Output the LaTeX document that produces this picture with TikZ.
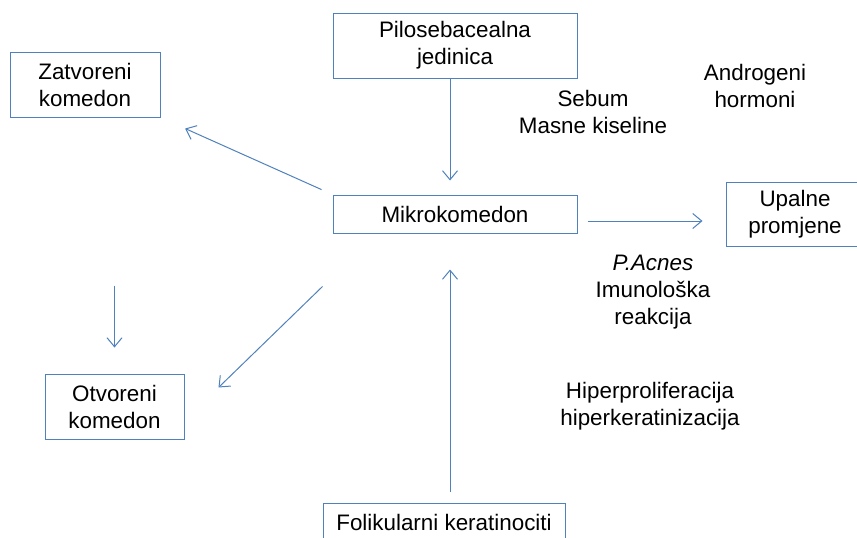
\documentclass[tikz,border=0pt]{standalone}
\usepackage{fontspec}
\setmainfont{Liberation Sans}
\usetikzlibrary{arrows.meta,positioning}
\definecolor{boxblue}{RGB}{79,129,189}
\tikzstyle{state}=[draw=boxblue, fill=white, align=center, inner sep=0pt, line width=1pt]
\tikzstyle{lbl}=[align=center, inner sep=0pt]
\tikzstyle{link}=[->, draw=boxblue, line width=1pt]

\begin{document}
\begin{tikzpicture}[x=1pt,y=-1pt,>={Straight Barb[length=9pt,width=15pt]},font=\fontsize{22.4}{27}\selectfont]
                        \useasboundingbox (0,0) rectangle (857,538);
                        \node [state,minimum width=244pt,minimum height=65pt] (pilo) at (455,45.5) {Pilosebacealna\\jedinica};
                        \node [state,minimum width=244pt,minimum height=38pt] (mikro) [below=116pt of pilo] {Mikrokomedon};
                        \node [state,minimum width=150pt,minimum height=65pt] (zatv) at (85,84.5) {Zatvoreni\\komedon};
                        \node [state,minimum width=139pt,minimum height=65pt] (otv) at (114.5,406.5) {Otvoreni\\komedon};
                        \node [state,minimum width=138pt,minimum height=64pt] (upal) at (795,214) {Upalne\\promjene};
                        \node [state,minimum width=242pt,minimum height=38pt] (folik) at (444,522) {Folikularni keratinociti};
                        % labels without frame
                        \node [lbl] (sebum) at (593,111.5) {Sebum\\Masne kiseline};
                        \node [lbl] (andro) at (755,85.5) {Androgeni\\hormoni};
                        \node [lbl] (acnes) at (653,292) {\textit{P.Acnes}\\Imunološka\\reakcija};
                        \node [lbl] (hiper) at (650,406) {Hiperproliferacija\\hiperkeratinizacija};
                        % arrows
                        \draw [link] ([xshift=-5pt]pilo.south) -- ([xshift=-5pt,yshift=14pt]mikro.north);
                        \draw [link] ([xshift=6pt,yshift=11pt]folik.north) -- ([xshift=-5pt,yshift=-36pt]mikro.south);
                        \draw [link,shorten <=12pt,shorten >=27pt] (mikro.north west) -- (zatv.south east);
                        \draw [link] ([xshift=-10pt,yshift=-53pt]mikro.south west) -- ([xshift=34pt,yshift=-14pt]otv.north east);
                        \draw [link,shorten <=168pt,shorten >=26pt] (zatv.south -| otv.north) -- (otv.north);
                        \draw [link] ([xshift=10pt,yshift=-7pt]mikro.east) -- ([xshift=-23pt,yshift=-7pt]upal.west);
                    \end{tikzpicture}
\end{document}
